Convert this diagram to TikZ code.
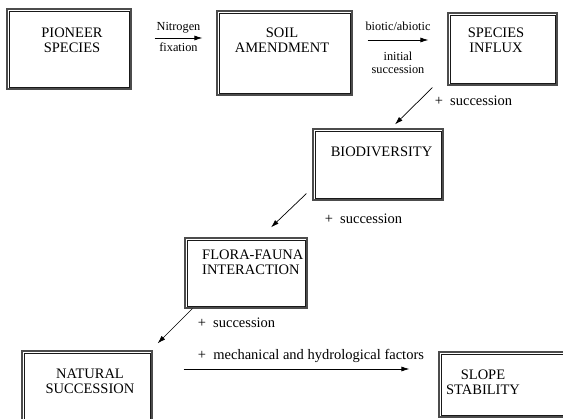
\documentclass[tikz,border=0pt]{standalone}
\usepackage{fontspec}
\setmainfont{Liberation Serif}
\usetikzlibrary{arrows,arrows.meta,positioning}

\begin{document}
\begin{tikzpicture}[
    x=1pt, y=-1pt,
    stagebox/.style={draw=black!70, line width=1.2pt, rectangle},
    innerline/.style={draw=black!90, line width=0.6pt},
    boxtext/.style={align=center, inner sep=0pt, font=\fontsize{14.5}{15}\selectfont},
    lbl/.style={inner sep=0pt, font=\fontsize{14.5}{15}\selectfont},
    small/.style={inner sep=0pt, align=center, font=\fontsize{12.3}{13}\selectfont},
    flow/.style={-{Latex[length=8pt,width=5pt]}, line width=0.7pt},
    ]
    \useasboundingbox (0,0) rectangle (563,419);

    % boxes
    \node[stagebox, minimum width=124pt, minimum height=80pt] (pioneer) at (69,49) {};
    \node[stagebox, minimum width=135pt, minimum height=84pt] (soil) at (284.5,53) {};
    \node[stagebox, minimum width=109pt, minimum height=72pt] (influx) at (502.5,49) {};
    \node[stagebox, minimum width=130pt, minimum height=71pt] (bio) at (378,164.5) {};
    \node[stagebox, minimum width=122pt, minimum height=70pt] (flora) at (246,273) {};
    \node[stagebox, minimum width=130pt, minimum height=74pt] (natural) at (87,388) {};
    \node[stagebox, minimum width=133pt, minimum height=65pt] (slope) at (505.5,384.5) {};
    \foreach \b in {pioneer,soil,influx,bio,flora,natural,slope}
        \draw[innerline] ([shift={(2.7pt,2.7pt)}]\b.south west) rectangle ([shift={(-2.7pt,-2.7pt)}]\b.north east);

    \node[boxtext] (pioneertext) at (72,40) {PIONEER\\SPECIES};
    \node[boxtext] (soiltext) at (282,40) {SOIL\\AMENDMENT};
    \node[boxtext] (influxtext) at (496,40) {SPECIES\\INFLUX};
    \node[boxtext] (biotext) at (381.5,151.5) {BIODIVERSITY};
    \node[boxtext, align=left, anchor=west] (floratext) at (202,262.5) {FLORA-FAUNA\\INTERACTION};
    \node[boxtext] (naturaltext) at (90,381.5) {NATURAL\\SUCCESSION};
    \node[boxtext] (slopetext) at (483,382) {SLOPE\\STABILITY};

    % connectors
    \draw[flow] ([shift={(23pt,11pt)}]pioneer.east) -- ([shift={(-14pt,15pt)}]soil.west)
        node[small, midway, above=4pt] (nitro) {Nitrogen}
        node[small, midway, below=4pt] (fix) {fixation};
    \draw[flow] ([shift={(15pt,13pt)}]soil.east) -- ([shift={(-19pt,9pt)}]influx.west)
        node[small, midway, above=9pt] (biotic) {biotic/abiotic}
        node[small, midway, below=12pt] (initial) {initial\\succession};
    \draw[flow] ([shift={(-15pt,-2pt)}]influx.south west) -- ([shift={(17pt,4pt)}]bio.north)
        node[lbl, at start, anchor=west, xshift=2pt, yshift=-13pt] (succ1) {+\ \ succession};
    \draw[flow] ([shift={(-6pt,7pt)}]bio.south west) -- ([shift={(25pt,10pt)}]flora.north)
        node[lbl, at start, anchor=west, xshift=18pt, yshift=-25pt] (succ2) {+\ \ succession};
    \draw[flow] ([shift={(8pt,0pt)}]flora.south west) -- ([shift={(5pt,7pt)}]natural.north east)
        node[lbl, at start, anchor=west, xshift=5pt, yshift=-14pt] (succ3) {+\ \ succession};
    \draw[flow] ([shift={(31pt,19pt)}]natural.east) -- ([shift={(-29pt,15.5pt)}]slope.west)
        node[lbl, at start, anchor=west, xshift=14pt, yshift=13pt] (mech) {+\ \ mechanical and hydrological factors};
\end{tikzpicture}
\end{document}
